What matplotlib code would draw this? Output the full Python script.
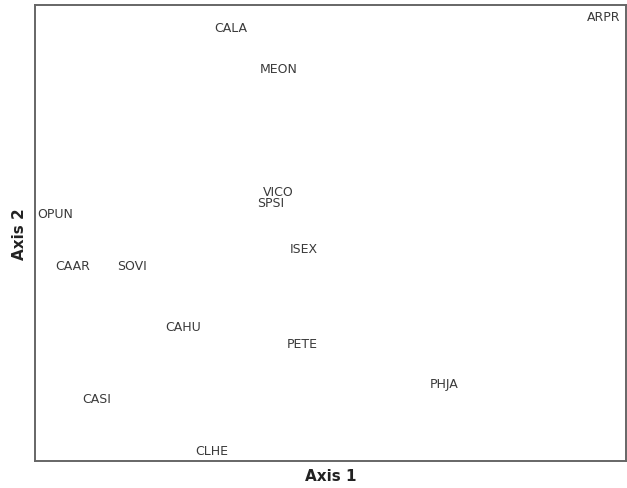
import matplotlib.pyplot as plt

# Species scores on the first two ordination axes
species = ["CALA", "MEON", "ARPR", "VICO", "SPSI", "OPUN", "ISEX",
           "CAAR", "SOVI", "CAHU", "PETE", "PHJA", "CASI", "CLHE"]
axis1 = [33.2, 41.3, 96.3, 41.1, 39.8, 3.4, 45.5,
         6.4, 16.4, 25.0, 45.3, 69.2, 10.5, 29.9]
axis2 = [95.0, 86.0, 97.4, 59.0, 56.6, 54.2, 46.7,
         42.8, 42.8, 29.4, 25.7, 17.1, 13.8, 2.2]

fig = plt.figure(figsize=(6.27, 4.89), dpi=100)
ax = fig.add_axes([0.0558, 0.0552, 0.9426, 0.9325])

for name, x, y in zip(species, axis1, axis2):
    ax.text(x, y, name, ha="center", va="center", fontsize=9,
            color="#3a3a3a")

ax.set_xlim(0, 100)
ax.set_ylim(0, 100)
ax.set_xticks([])
ax.set_yticks([])
for sp in ax.spines.values():
    sp.set_color("#666666")
    sp.set_linewidth(1.4)

ax.set_xlabel("Axis 1", fontsize=11, fontweight="bold", color="#222222", labelpad=5)
ax.set_ylabel("Axis 2", fontsize=11, fontweight="bold", color="#222222", labelpad=6)

fig.savefig("out.png", dpi=100)
